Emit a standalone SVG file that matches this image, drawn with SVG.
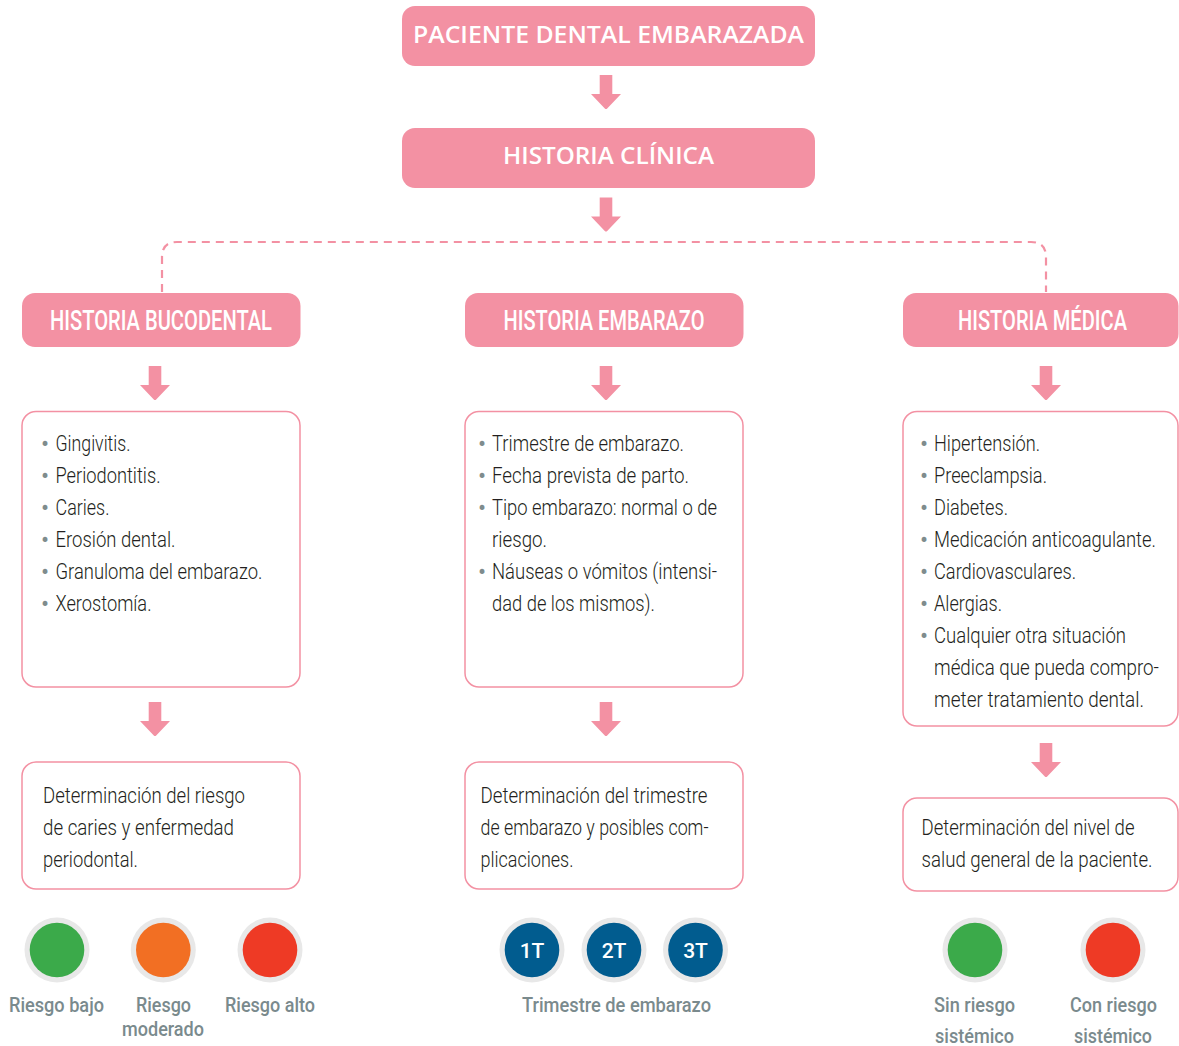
<svg xmlns="http://www.w3.org/2000/svg" width="1179" height="1046" viewBox="0 0 1179 1046">
<defs>
<style>
.pk{fill:#F391A3}
.box{fill:#FFFFFF;stroke:#F391A3;stroke-width:1.5}
.t1{font-family:"Open Sans","Noto Sans",sans-serif;font-weight:600;font-size:24px;fill:#FFFFFF}
.hd{font-family:"Roboto","Liberation Sans",sans-serif;font-weight:500;font-size:27px;fill:#FFFFFF}
.bd{font-family:"Roboto","Liberation Sans",sans-serif;font-weight:300;font-size:22px;fill:#231F20}
.bul{font-family:"Roboto","Liberation Sans",sans-serif;font-size:24px;fill:#7F8C8D}
.lb{font-family:"Roboto","Liberation Sans",sans-serif;font-weight:500;font-size:21px;fill:#7A8A8D}
.ct{font-family:"Roboto","Liberation Sans",sans-serif;font-weight:500;font-size:21px;fill:#FFFFFF}
.ring{fill:#E8E8E8}
.dash{fill:none;stroke:#F391A3;stroke-width:2.2;stroke-dasharray:8 6}
</style>
<path id="arr" d="M-6.3,0 H6.3 V19 H15 L1.2,33.5 Q0,34.5 -1.2,33.5 L-15,19 H-6.3 Z"/>
</defs>

<g id="connectors">
<use href="#arr" class="pk" x="606" y="75"/>
<use href="#arr" class="pk" x="606" y="197.5"/>
<path class="dash" d="M162,292 V257 Q162,242 177,242 H1031 Q1046,242 1046,257 V292"/>
<use href="#arr" class="pk" x="155" y="366"/>
<use href="#arr" class="pk" x="606" y="366"/>
<use href="#arr" class="pk" x="1046" y="366"/>
<use href="#arr" class="pk" x="155" y="702"/>
<use href="#arr" class="pk" x="606" y="702"/>
<use href="#arr" class="pk" x="1046" y="743"/>
</g>

<g id="paciente">
<rect class="pk" x="402" y="6" width="413" height="60" rx="13"/>
<text class="t1" x="413" y="42.5" textLength="391" lengthAdjust="spacingAndGlyphs">PACIENTE DENTAL EMBARAZADA</text>
</g>

<g id="historia-clinica">
<rect class="pk" x="402" y="128" width="413" height="60" rx="13"/>
<text class="t1" x="503" y="163.5" textLength="211" lengthAdjust="spacingAndGlyphs">HISTORIA CLÍNICA</text>
</g>

<g id="historia-bucodental">
<rect class="pk" x="22" y="293" width="278.5" height="54" rx="13"/>
<text class="hd" x="50" y="329.5" textLength="222" lengthAdjust="spacingAndGlyphs">HISTORIA BUCODENTAL</text>
</g>

<g id="historia-embarazo">
<rect class="pk" x="465" y="293" width="278.5" height="54" rx="13"/>
<text class="hd" x="503.5" y="329.5" textLength="201" lengthAdjust="spacingAndGlyphs">HISTORIA EMBARAZO</text>
</g>

<g id="historia-medica">
<rect class="pk" x="903" y="293" width="275.5" height="54" rx="13"/>
<text class="hd" x="958" y="329.5" textLength="169" lengthAdjust="spacingAndGlyphs">HISTORIA MÉDICA</text>
</g>

<g id="lista-bucodental">
<rect class="box" x="22" y="411.5" width="278" height="275.5" rx="14"/>
<text class="bul" x="41" y="452">•</text>
<text class="bd" x="55.5" y="451" textLength="75" lengthAdjust="spacingAndGlyphs">Gingivitis.</text>
<text class="bul" x="41" y="484">•</text>
<text class="bd" x="55.5" y="483" textLength="105" lengthAdjust="spacingAndGlyphs">Periodontitis.</text>
<text class="bul" x="41" y="516">•</text>
<text class="bd" x="55.5" y="515" textLength="54" lengthAdjust="spacingAndGlyphs">Caries.</text>
<text class="bul" x="41" y="548">•</text>
<text class="bd" x="55.5" y="547" textLength="120" lengthAdjust="spacingAndGlyphs">Erosión dental.</text>
<text class="bul" x="41" y="580">•</text>
<text class="bd" x="55.5" y="579" textLength="207" lengthAdjust="spacingAndGlyphs">Granuloma del embarazo.</text>
<text class="bul" x="41" y="612">•</text>
<text class="bd" x="55.5" y="611" textLength="96" lengthAdjust="spacingAndGlyphs">Xerostomía.</text>
</g>

<g id="lista-embarazo">
<rect class="box" x="465" y="411.5" width="278" height="275.5" rx="14"/>
<text class="bul" x="478" y="452">•</text>
<text class="bd" x="492" y="451" textLength="192" lengthAdjust="spacingAndGlyphs">Trimestre de embarazo.</text>
<text class="bul" x="478" y="484">•</text>
<text class="bd" x="492" y="483" textLength="197" lengthAdjust="spacingAndGlyphs">Fecha prevista de parto.</text>
<text class="bul" x="478" y="516">•</text>
<text class="bd" x="492" y="515" textLength="225" lengthAdjust="spacingAndGlyphs">Tipo embarazo: normal o de</text>
<text class="bd" x="492" y="547" textLength="55" lengthAdjust="spacingAndGlyphs">riesgo.</text>
<text class="bul" x="478" y="580">•</text>
<text class="bd" x="492" y="579" textLength="225" lengthAdjust="spacingAndGlyphs">Náuseas o vómitos (intensi-</text>
<text class="bd" x="492" y="611" textLength="163" lengthAdjust="spacingAndGlyphs">dad de los mismos).</text>
</g>

<g id="lista-medica">
<rect class="box" x="903" y="411.5" width="275" height="314.5" rx="14"/>
<text class="bul" x="920" y="452">•</text>
<text class="bd" x="934" y="451" textLength="106" lengthAdjust="spacingAndGlyphs">Hipertensión.</text>
<text class="bul" x="920" y="484">•</text>
<text class="bd" x="934" y="483" textLength="113" lengthAdjust="spacingAndGlyphs">Preeclampsia.</text>
<text class="bul" x="920" y="516">•</text>
<text class="bd" x="934" y="515" textLength="74" lengthAdjust="spacingAndGlyphs">Diabetes.</text>
<text class="bul" x="920" y="548">•</text>
<text class="bd" x="934" y="547" textLength="222" lengthAdjust="spacingAndGlyphs">Medicación anticoagulante.</text>
<text class="bul" x="920" y="580">•</text>
<text class="bd" x="934" y="579" textLength="142" lengthAdjust="spacingAndGlyphs">Cardiovasculares.</text>
<text class="bul" x="920" y="612">•</text>
<text class="bd" x="934" y="611" textLength="68" lengthAdjust="spacingAndGlyphs">Alergias.</text>
<text class="bul" x="920" y="644">•</text>
<text class="bd" x="934" y="643" textLength="192" lengthAdjust="spacingAndGlyphs">Cualquier otra situación</text>
<text class="bd" x="934" y="675" textLength="225" lengthAdjust="spacingAndGlyphs">médica que pueda compro-</text>
<text class="bd" x="934" y="707" textLength="210" lengthAdjust="spacingAndGlyphs">meter tratamiento dental.</text>
</g>

<g id="riesgo-caries">
<rect class="box" x="22" y="762" width="278" height="127" rx="14"/>
<text class="bd" x="43" y="803" textLength="202" lengthAdjust="spacingAndGlyphs">Determinación del riesgo</text>
<text class="bd" x="43" y="835" textLength="191" lengthAdjust="spacingAndGlyphs">de caries y enfermedad</text>
<text class="bd" x="43" y="867" textLength="95" lengthAdjust="spacingAndGlyphs">periodontal.</text>
</g>

<g id="trimestre">
<rect class="box" x="465" y="762" width="278" height="127" rx="14"/>
<text class="bd" x="480.5" y="803" textLength="227" lengthAdjust="spacingAndGlyphs">Determinación del trimestre</text>
<text class="bd" x="480.5" y="835" textLength="228" lengthAdjust="spacingAndGlyphs">de embarazo y posibles com-</text>
<text class="bd" x="480.5" y="867" textLength="93" lengthAdjust="spacingAndGlyphs">plicaciones.</text>
</g>

<g id="salud-general">
<rect class="box" x="903" y="798" width="275" height="93" rx="14"/>
<text class="bd" x="921.5" y="835" textLength="213" lengthAdjust="spacingAndGlyphs">Determinación del nivel de</text>
<text class="bd" x="921.5" y="867" textLength="231" lengthAdjust="spacingAndGlyphs">salud general de la paciente.</text>
</g>

<g id="riesgo-bajo">
<circle class="ring" cx="57" cy="950" r="32.5"/>
<circle cx="57" cy="950" r="27.3" fill="#3BAA4A"/>
<text class="lb" x="9" y="1012" textLength="95" lengthAdjust="spacingAndGlyphs">Riesgo bajo</text>
</g>
<g id="riesgo-moderado">
<circle class="ring" cx="163.3" cy="950" r="32.5"/>
<circle cx="163.3" cy="950" r="27.3" fill="#F26F23"/>
<text class="lb" x="136" y="1012" textLength="55" lengthAdjust="spacingAndGlyphs">Riesgo</text>
<text class="lb" x="122" y="1036" textLength="82" lengthAdjust="spacingAndGlyphs">moderado</text>
</g>
<g id="riesgo-alto">
<circle class="ring" cx="270" cy="950" r="32.5"/>
<circle cx="270" cy="950" r="27.3" fill="#EE3A25"/>
<text class="lb" x="225" y="1012" textLength="90" lengthAdjust="spacingAndGlyphs">Riesgo alto</text>
</g>

<g id="t1">
<circle class="ring" cx="532" cy="950" r="32.5"/>
<circle cx="532" cy="950" r="27.3" fill="#015C8F"/>
<text class="ct" x="532" y="957.5" text-anchor="middle">1T</text>
</g>
<g id="t2">
<circle class="ring" cx="614" cy="950" r="32.5"/>
<circle cx="614" cy="950" r="27.3" fill="#015C8F"/>
<text class="ct" x="614" y="957.5" text-anchor="middle">2T</text>
</g>
<g id="t3">
<circle class="ring" cx="695.5" cy="950" r="32.5"/>
<circle cx="695.5" cy="950" r="27.3" fill="#015C8F"/>
<text class="ct" x="695.5" y="957.5" text-anchor="middle">3T</text>
</g>
<g id="trimestre-label">
<text class="lb" x="522" y="1012" textLength="189" lengthAdjust="spacingAndGlyphs">Trimestre de embarazo</text>
</g>

<g id="sin-riesgo">
<circle class="ring" cx="975" cy="950" r="32.5"/>
<circle cx="975" cy="950" r="27.3" fill="#3BAA4A"/>
<text class="lb" x="934" y="1012" textLength="81" lengthAdjust="spacingAndGlyphs">Sin riesgo</text>
<text class="lb" x="935" y="1043" textLength="79" lengthAdjust="spacingAndGlyphs">sistémico</text>
</g>
<g id="con-riesgo">
<circle class="ring" cx="1113" cy="950" r="32.5"/>
<circle cx="1113" cy="950" r="27.3" fill="#EE3A25"/>
<text class="lb" x="1070" y="1012" textLength="87" lengthAdjust="spacingAndGlyphs">Con riesgo</text>
<text class="lb" x="1074" y="1043" textLength="78" lengthAdjust="spacingAndGlyphs">sistémico</text>
</g>
</svg>
